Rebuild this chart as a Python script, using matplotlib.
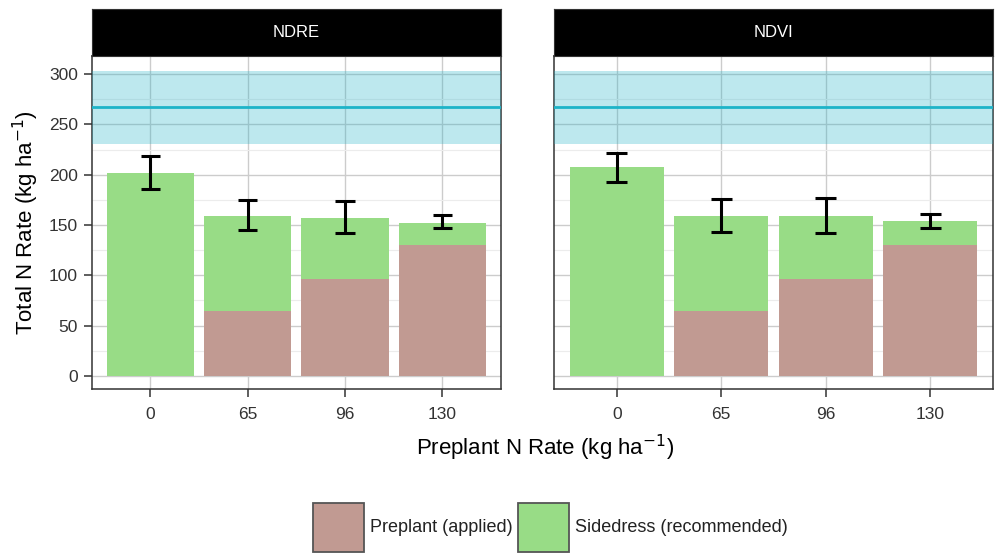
import numpy as np
import matplotlib
matplotlib.use("Agg")
import matplotlib.pyplot as plt
from matplotlib.patches import Rectangle

# data
categories = ["0", "65", "96", "130"]
panels = ["NDRE", "NDVI"]
preplant = {"NDRE": [0, 65, 96, 130], "NDVI": [0, 65, 96, 130]}
total = {"NDRE": [202, 159, 157, 152], "NDVI": [208, 159, 159, 154]}
err_low = {"NDRE": [186, 145, 142, 147], "NDVI": [193, 143, 142, 147]}
err_high = {"NDRE": [219, 175, 174, 160], "NDVI": [222, 176, 177, 161]}
ribbon_low = 231
ribbon_mid = 267
ribbon_high = 303
legend_labels = ["Preplant (applied)", "Sidedress (recommended)"]

PRE_COL = "#c19a92"
SIDE_COL = "#98dc86"
W, H = 997, 553

plt.rcParams["font.family"] = ["Liberation Sans", "DejaVu Sans"]

fig = plt.figure(figsize=(W / 100, H / 100), dpi=100)


def px_axes(x0, y0, x1, y1):
    return fig.add_axes([x0 / W, 1 - y1 / H, (x1 - x0) / W, (y1 - y0) / H])


boxes = {"NDRE": (92, 500.7), "NDVI": (554, 993)}

for k, name in enumerate(panels):
    x0, x1 = boxes[name]
    ax = px_axes(x0, 56, x1, 389)
    x = np.arange(len(categories))
    pre = np.array(preplant[name])
    side = np.array(total[name]) - pre

    ax.set_axisbelow(True)
    ax.bar(x, pre, width=0.9, color=PRE_COL, zorder=2)
    ax.bar(x, side, bottom=pre, width=0.9, color=SIDE_COL, zorder=2)

    ax.axhspan(ribbon_low, ribbon_high, color="#27b4c8", alpha=0.3, lw=0, zorder=3)
    ax.axhline(ribbon_mid, color="#1db4c8", lw=2, zorder=4)

    ax.vlines(x, err_low[name], err_high[name], color="black", lw=2.2, zorder=5)
    ax.hlines(err_low[name], x - 0.1, x + 0.1, color="black", lw=2.2, zorder=5)
    ax.hlines(err_high[name], x - 0.1, x + 0.1, color="black", lw=2.2, zorder=5)

    ax.set_xlim(-0.6, len(categories) - 0.4)
    ax.set_ylim(-13, 318)
    ax.set_xticks(x)
    ax.set_xticklabels(categories)
    ax.set_yticks(np.arange(0, 301, 50))
    ax.set_yticks(np.arange(25, 301, 50), minor=True)
    ax.grid(which="major", color="#cccccc", lw=1.0)
    ax.grid(which="minor", axis="y", color="#ececec", lw=0.8)
    ax.tick_params(axis="both", which="minor", length=0)
    ax.tick_params(axis="both", which="major", length=6, width=1.1,
                   color="#333333", labelsize=12.5, labelcolor="#333333", pad=4)
    ax.tick_params(axis="x", pad=7)
    if k == 0:
        ax.set_ylabel("Total N Rate (kg ha$^{-1}$)", fontsize=16, labelpad=6)
    else:
        ax.tick_params(axis="y", left=False, labelleft=False)
    for s in ax.spines.values():
        s.set_color("#333333")
        s.set_linewidth(1.1)

    strip = px_axes(x0, 9, x1, 56)
    strip.set_facecolor("black")
    strip.set_xticks([])
    strip.set_yticks([])
    for s in strip.spines.values():
        s.set_color("#333333")
    strip.text(0.5, 0.5, name, color="white", fontsize=12,
               ha="center", va="center", transform=strip.transAxes)

fig.text(545 / W, 1 - 448 / H, "Preplant N Rate (kg ha$^{-1}$)",
         ha="center", va="center", fontsize=16)

# legend drawn by hand in figure pixels, ggplot-style 50px keys
key_x = [313, 518]
for kx, col, lab in zip(key_x, [PRE_COL, SIDE_COL], legend_labels):
    fig.patches.append(Rectangle((kx / W, 1 - 552 / H), 51 / W, 49 / H,
                                 transform=fig.transFigure, facecolor=col,
                                 edgecolor="#555555", lw=1.3))
    fig.text((kx + 57) / W, 1 - 528 / H, lab, ha="left", va="center",
             fontsize=13, color="#222222")

fig.savefig("out.png", dpi=100)
